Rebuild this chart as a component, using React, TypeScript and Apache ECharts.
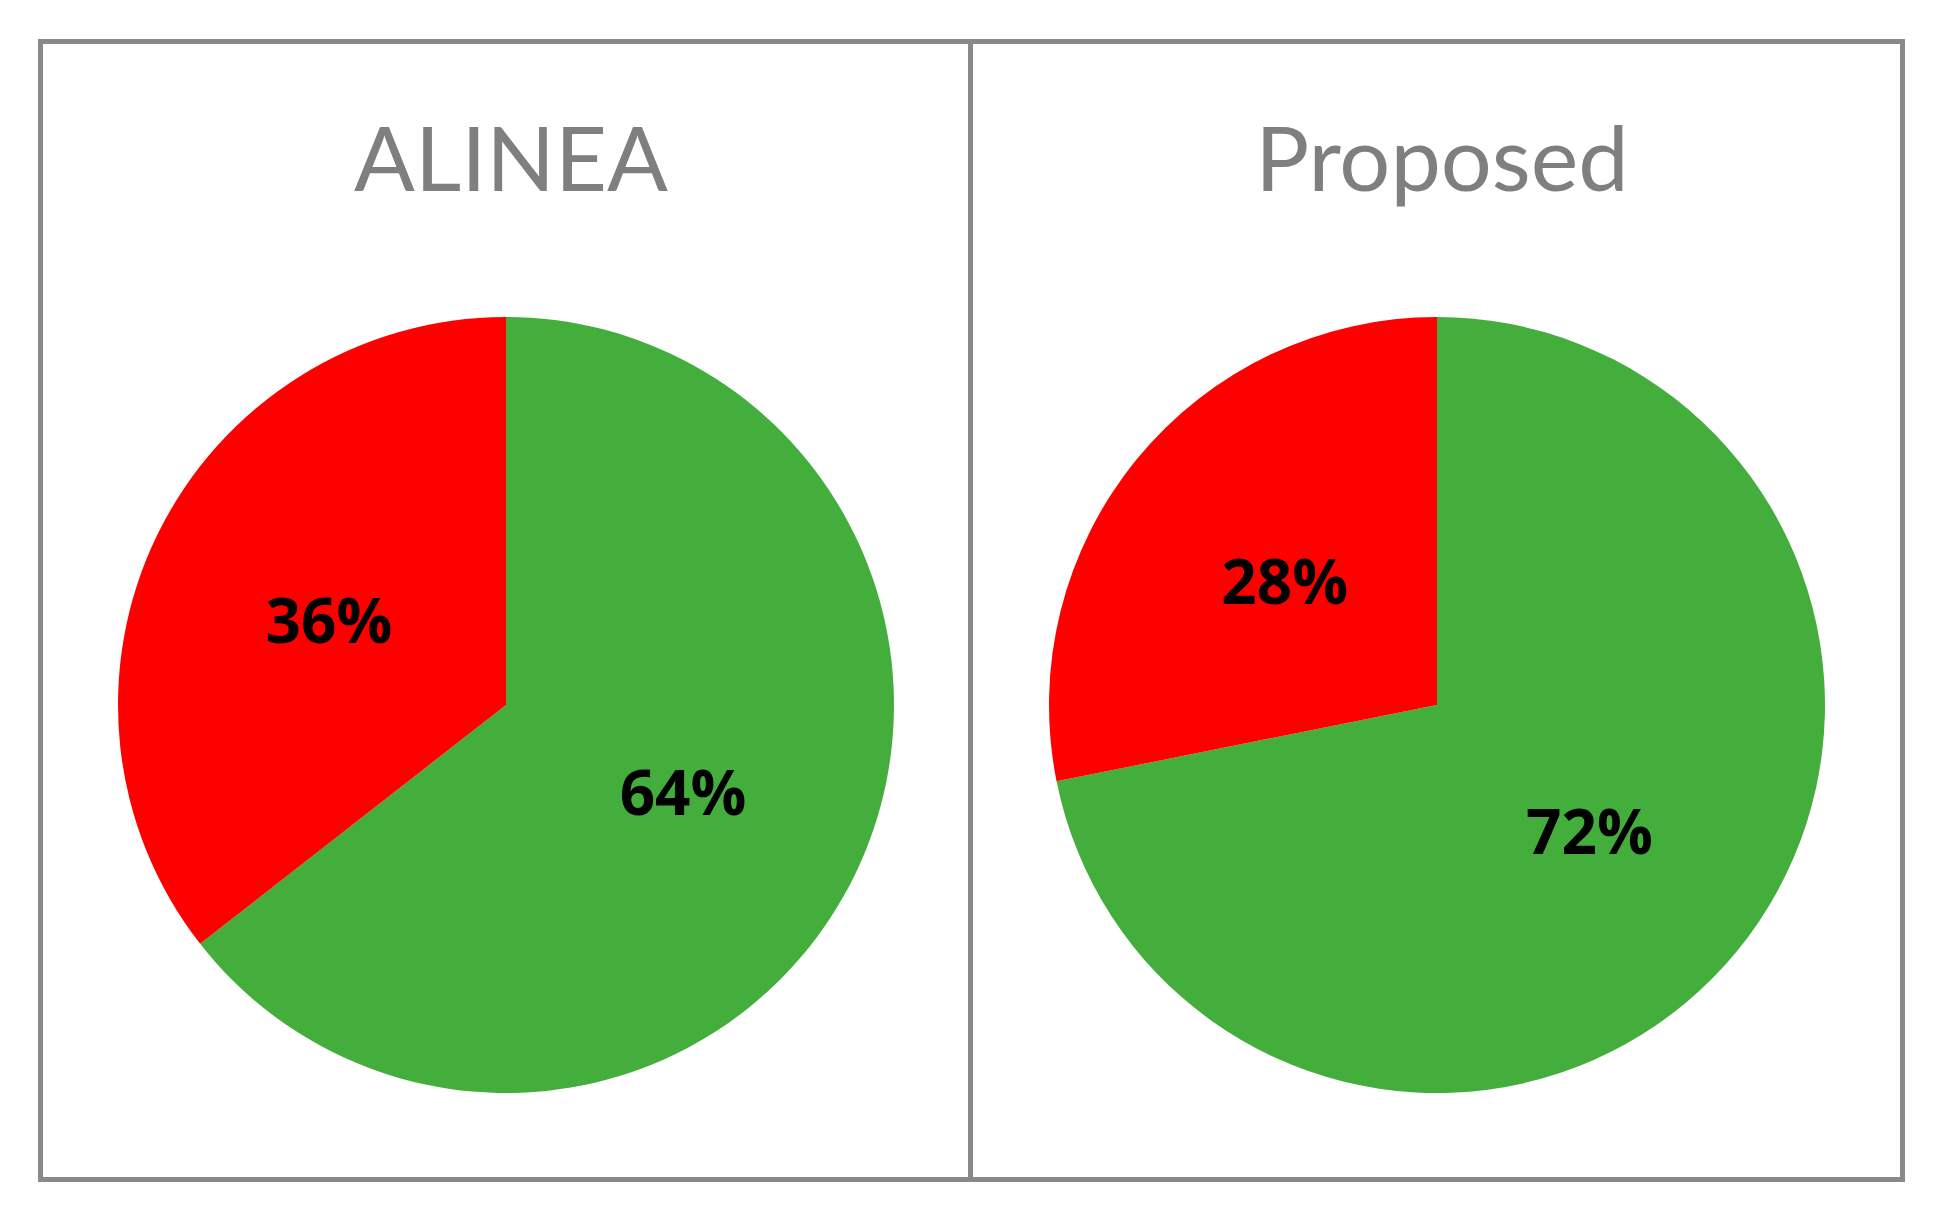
import React, { useEffect, useRef } from "react";
import * as echarts from "echarts";

const titles = ["ALINEA", "Proposed"];
const categories = ["Success", "Failure"];
const alineaValues = [64.45, 35.55];
const proposedValues = [71.85, 28.15];
const sliceColors = ["#43AE3C", "#FF0000"];

export default function App() {
  const ref = useRef<HTMLDivElement>(null);
  useEffect(() => {
    document.body.style.margin = "0";
    const chart = echarts.init(ref.current!, null, { renderer: "svg" });
    const mk = (vals: number[], cx: number) => ({
      type: "pie",
      center: [cx, 705],
      radius: 388,
      startAngle: 90,
      clockwise: true,
      silent: true,
      percentPrecision: 0,
      label: {
        show: true,
        position: "inner",
        formatter: "{d}%",
        color: "#000",
        fontSize: 62,
        fontWeight: "bold",
        fontFamily: "Open Sans",
      },
      labelLine: { show: false },
      itemStyle: { borderWidth: 0 },
      data: vals.map((v, i) => ({
        name: categories[i],
        value: v,
        itemStyle: { color: sliceColors[i] },
      })),
    });
    const titleStyle = { fontFamily: "Lato", fontSize: 90, fontWeight: "normal", color: "#7F7F7F" };
    chart.setOption({
      animation: false,
      backgroundColor: "#fff",
      title: [
        { text: titles[0], left: 506, top: 106, textAlign: "center", textStyle: titleStyle },
        { text: titles[1], left: 1437, top: 106, textAlign: "center", textStyle: titleStyle },
      ],
      graphic: [
        {
          type: "rect",
          shape: { x: 40.5, y: 41.5, width: 1862, height: 1138 },
          style: { fill: "none", stroke: "#898989", lineWidth: 5 },
          silent: true,
        },
        {
          type: "line",
          shape: { x1: 970.5, y1: 41.5, x2: 970.5, y2: 1179.5 },
          style: { stroke: "#898989", lineWidth: 5 },
          silent: true,
        },
      ],
      series: [mk(alineaValues, 506), mk(proposedValues, 1437)],
    });
    return () => chart.dispose();
  }, []);
  return <div ref={ref} style={{ width: 1939, height: 1218 }} />;
}
